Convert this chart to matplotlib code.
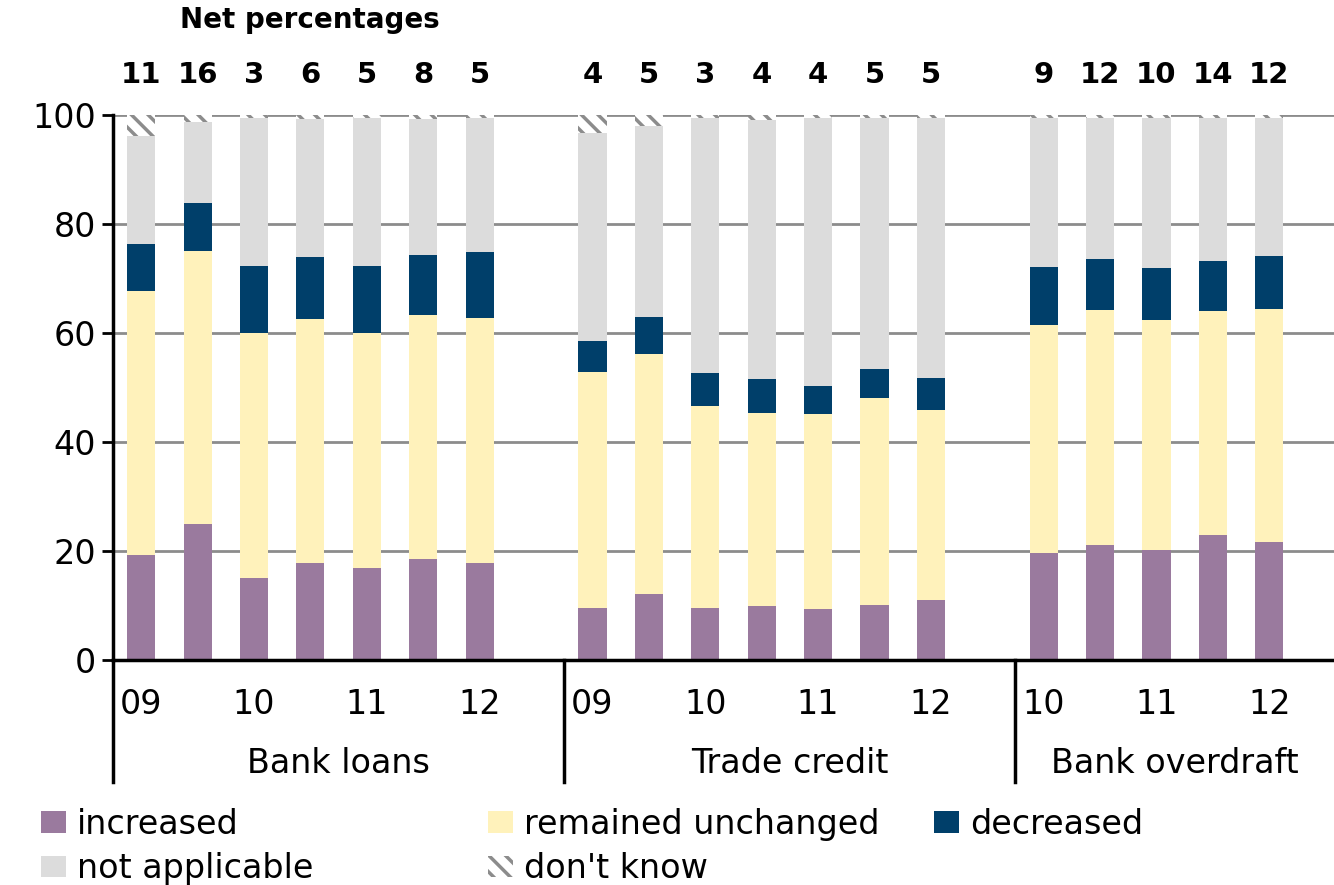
import numpy as np
import matplotlib.pyplot as plt
from matplotlib.patches import Patch

# survey answers, % of firms, one entry per survey round
groups = ['Bank loans', 'Trade credit', 'Bank overdraft']
years = [['09', '', '10', '', '11', '', '12'],
         ['09', '', '10', '', '11', '', '12'],
         ['10', '', '11', '', '12']]

increased = [[19.3, 25.0, 15.0, 17.8, 16.9, 18.5, 17.8],
             [9.5, 12.1, 9.5, 9.9, 9.4, 10.1, 11.0],
             [19.6, 21.1, 20.2, 22.9, 21.7]]
unchanged = [[48.4, 50.0, 45.0, 44.8, 43.1, 44.8, 45.0],
             [43.3, 44.0, 37.1, 35.4, 35.7, 38.0, 34.9],
             [41.9, 43.1, 42.2, 41.1, 42.7]]
decreased = [[8.6, 8.9, 12.3, 11.3, 12.3, 11.0, 12.1],
             [5.7, 6.8, 6.1, 6.3, 5.2, 5.3, 5.8],
             [10.6, 9.4, 9.5, 9.2, 9.7]]
not_applicable = [[19.8, 14.8, 27.2, 25.4, 27.2, 25.0, 24.6],
                  [38.2, 35.1, 46.8, 47.4, 49.2, 46.1, 47.8],
                  [27.4, 25.9, 27.6, 26.3, 25.4]]
dont_know = [[3.9, 1.3, 0.5, 0.7, 0.5, 0.7, 0.5],
             [3.3, 2.0, 0.5, 1.0, 0.5, 0.5, 0.5],
             [0.5, 0.5, 0.5, 0.5, 0.5]]
net_pct = [[11, 16, 3, 6, 5, 8, 5],
           [4, 5, 3, 4, 4, 5, 5],
           [9, 12, 10, 14, 12]]

colors = {'increased': '#9a7a9e', 'remained unchanged': '#fff2bb',
          'decreased': '#003f6a', 'not applicable': '#dcdcdc'}

plt.rcParams['hatch.linewidth'] = 2.5
plt.rcParams['hatch.color'] = '#8c8c8c'
plt.rcParams['font.size'] = 24

fig = plt.figure(figsize=(13.34, 8.85), dpi=100)
ax = fig.add_axes([113 / 1334, 1 - 660 / 885, 1 - 113 / 1334, 545 / 885])

# each group takes len+1 slots, the last one left empty as a gap
starts = []
s = 0
for g in increased:
    starts.append(s)
    s += len(g) + 1

xs, ticklabels = [], []
for gi, start in enumerate(starts):
    x = np.arange(len(increased[gi])) + start + 0.5
    xs.append(x)
    ticklabels += years[gi]
    bottom = np.zeros(len(x))
    for name, vals in [('increased', increased), ('remained unchanged', unchanged),
                       ('decreased', decreased), ('not applicable', not_applicable)]:
        v = np.array(vals[gi])
        ax.bar(x, v, 0.5, bottom=bottom, color=colors[name], zorder=2)
        bottom += v
    ax.bar(x, dont_know[gi], 0.5, bottom=bottom, color='white', hatch='\\\\',
           edgecolor='#8c8c8c', linewidth=0, zorder=2)
    for xi, n in zip(x, net_pct[gi]):
        ax.text(xi, 107.3, str(n), ha='center', va='center', fontsize=21,
                fontweight='bold')

allx = np.concatenate(xs)
ax.set_xticks(allx)
ax.set_xticklabels(ticklabels)
ax.tick_params(axis='x', length=0, pad=20)
ax.set_xlim(0, 1221 / 56.4)
ax.set_ylim(0, 100)
ax.set_yticks([0, 20, 40, 60, 80, 100])
ax.tick_params(axis='y', length=8, width=2, pad=4)
ax.yaxis.grid(True, color='#8c8c8c', linewidth=2, zorder=0)
ax.set_axisbelow(True)
for side in ['top', 'right']:
    ax.spines[side].set_visible(False)
ax.spines['left'].set_linewidth(2.5)
ax.spines['bottom'].set_linewidth(2.5)
ax.spines['bottom'].set_zorder(3)

# group separators below the axis and group names
for start in starts:
    ax.plot([start, start], [0, -22.4], color='black', lw=2.5, clip_on=False)
ends = starts[1:] + [1221 / 56.4]
for gi, name in enumerate(groups):
    ax.text((starts[gi] + ends[gi]) / 2, -19.0, name, ha='center', va='center')

ax.text(1.19, 117.4, 'Net percentages', ha='left', va='center', fontsize=20,
        fontweight='bold')

# legend in three fixed columns
cols = [[('increased', colors['increased'], None), ('not applicable', colors['not applicable'], None)],
        [('remained unchanged', colors['remained unchanged'], None), ("don't know", 'white', '\\\\')],
        [('decreased', colors['decreased'], None)]]
for ci, col in enumerate(cols):
    handles = [Patch(facecolor=c, hatch=h, edgecolor='#8c8c8c' if h else c, linewidth=0)
               for _, c, h in col]
    fig.legend(handles, [t for t, _, _ in col], loc='upper left',
               bbox_to_anchor=([24, 471, 917][ci] / 1334, 1 - 791 / 885),
               frameon=False, handlelength=0.75, handleheight=0.6,
               handletextpad=0.35, labelspacing=0.35, fontsize=24, borderpad=0)

fig.savefig('out.png', dpi=100)
